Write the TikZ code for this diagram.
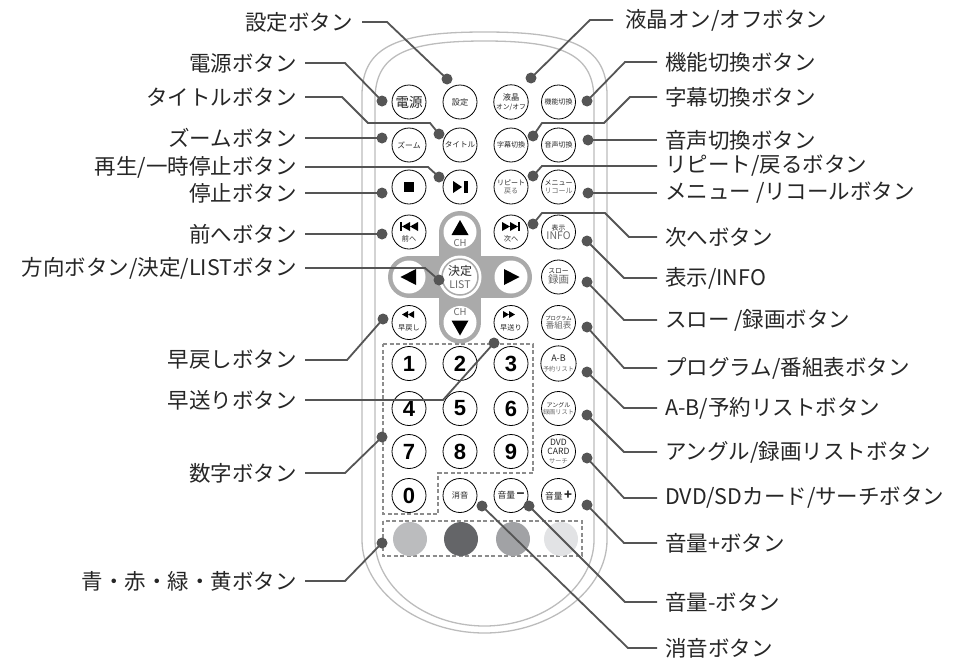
\documentclass[tikz,border=0pt]{standalone}
\usepackage{fontspec}
\setmainfont{Noto Sans CJK JP}
\newfontfamily\numfont{Liberation Sans}
\usepackage{tikz}
\definecolor{txtgray}{RGB}{38,38,38}
\definecolor{leadgray}{RGB}{85,85,85}
\definecolor{shellgray}{RGB}{188,188,188}
\definecolor{padgray}{RGB}{170,170,170}
\definecolor{dashgray}{RGB}{140,140,140}
\definecolor{subgray}{RGB}{105,105,105}
\definecolor{keyA}{RGB}{187,188,190}
\definecolor{keyB}{RGB}{100,101,104}
\definecolor{keyC}{RGB}{161,162,165}
\definecolor{keyD}{RGB}{226,227,229}
\tikzstyle{btn} = [circle,draw=black,line width=0.8pt,fill=white,minimum size=34pt,inner sep=0pt,align=center,font=\fontsize{7.8}{8.5}\selectfont,text=txtgray]
\tikzstyle{padbtn} = [circle,fill=white,minimum size=33pt,inner sep=0pt]
\tikzstyle{colkey} = [circle,minimum size=34pt,inner sep=0pt]
\tikzstyle{calldot} = [circle,fill=leadgray,minimum size=11pt,inner sep=0pt]
\tikzstyle{lbl} = [inner sep=0pt,font=\fontsize{21.5}{22}\selectfont,text=txtgray]
\tikzstyle{keytxt} = [inner sep=0pt,font=\fontsize{7.2}{7.5}\selectfont,text=txtgray]
\tikzstyle{numkey} = [btn,font=\numfont\bfseries\fontsize{22}{22}\selectfont,text=black]
\tikzstyle{leader} = [draw=leadgray,line width=1.8pt]
\tikzstyle{dashbox} = [draw=dashgray,line width=1.2pt,dash pattern=on 4pt off 2.5pt]

\begin{document}
\begin{tikzpicture}[x=1pt,y=-1pt]
            \useasboundingbox (0,0) rectangle (966,664);
            % remote body
            \draw[shellgray,line width=1.3pt] (362,540) -- (362,95) .. controls (362,45) and (400,32) .. (484.5,32) .. controls (569,32) and (607,45) .. (607,95) -- (607,540) .. controls (607,590) and (551,633) .. (484.5,633) .. controls (418,633) and (362,590) .. (362,540) -- cycle;
            \draw[shellgray,line width=1.3pt] (375,540) -- (375,100) .. controls (375,55) and (405,41) .. (484.5,41) .. controls (564,41) and (594,55) .. (594,100) -- (594,540) .. controls (594,585) and (546,626) .. (484.5,626) .. controls (423,626) and (375,585) .. (375,540) -- cycle;
            \draw[dashbox] (383,344) -- (533,344) -- (533,473) -- (438,473) -- (438,514) -- (383,514) -- cycle;
            \draw[dashbox] (383,521) rectangle (582,556);
            \draw[padgray,line width=42pt,line cap=round] (460,232) -- (460,322.5);
            \draw[padgray,line width=42pt,line cap=round] (409,277) -- (511,277);

            % keys
            \node[btn,font=\fontsize{13.5}{14}\selectfont] (bPow) at (409,102) {電源};
            \node[btn,font=\fontsize{8.2}{9}\selectfont] (bSet) at (460,102) {設定};
            \node[btn,font=\fontsize{8.2}{9}\selectfont] (bLcd) at (511,102) {液晶\\{\fontsize{6.8}{7.5}\selectfont オン/オフ}};
            \node[btn,font=\fontsize{7}{7.5}\selectfont] (bFunc) at (558.5,102) {機能切換};
            \node[btn] (bZoom) at (409,145) {ズーム};
            \node[btn,font=\fontsize{7.6}{8}\selectfont] (bTitle) at (460,145) {タイトル};
            \node[btn,font=\fontsize{7}{7.5}\selectfont] (bSub) at (511,145) {字幕切換};
            \node[btn,font=\fontsize{7}{7.5}\selectfont] (bAudio) at (558.5,145) {音声切換};
            \node[btn] (bStop) at (409,187) {};
            \fill[black] (404,182) rectangle (414,192);
            \node[btn] (bPlay) at (460,187) {};
            \fill[black] (453,181) -- (453,193) -- (462,187) -- cycle;
            \fill[black] (464,181) rectangle (468,193);
            \node[btn,font=\fontsize{7}{8.5}\selectfont] (bRep) at (511,187) {リピート\\\textcolor{subgray}{戻る}};
            \node[btn,font=\fontsize{7}{8.5}\selectfont] (bMenu) at (558.5,187) {メニュー\\\textcolor{subgray}{リコール}};

            \node[btn] (bPrev) at (409,232) {};
            \fill[black] (400,222) rectangle (402,231);
            \fill[black] (402,226.5) -- (410,222) -- (410,231) -- cycle;
            \fill[black] (410,226.5) -- (418,222) -- (418,231) -- cycle;
            \node[keytxt] (tPrev) at (409,238.5) {前へ};
            \node[padbtn] (bUp) at (460,232) {};
            \fill[black] (460,220) -- (468.5,235) -- (451.5,235) -- cycle;
            \node[keytxt,font=\fontsize{9.5}{10}\selectfont,text=subgray] (tUp) at (460,243) {CH};
            \node[btn] (bNext) at (511,232) {};
            \fill[black] (502,222) -- (510,226.5) -- (502,231) -- cycle;
            \fill[black] (510,222) -- (518,226.5) -- (510,231) -- cycle;
            \fill[black] (518,222) rectangle (520,231);
            \node[keytxt] (tNext) at (511,238.5) {次へ};
            \node[btn,font=\fontsize{6.8}{8}\selectfont] (bInfo) at (558.5,232) {表示\\\textcolor{subgray}{\fontsize{10.5}{11}\selectfont INFO}};

            \node[padbtn] (bLeft) at (409,277) {};
            \fill[black] (400.5,277) -- (416,269) -- (416,285) -- cycle;
            \node[padbtn,minimum size=43pt] (bOk) at (460,277) {};
            \draw[padgray,line width=1.5pt] (bOk.center) circle[radius=18];
            \node[keytxt,align=center,font=\fontsize{12}{12.5}\selectfont] (tOk) at (460,277) {決定\\\textcolor{subgray}{\fontsize{10.5}{11}\selectfont LIST}};
            \node[padbtn] (bRight) at (511,277) {};
            \fill[black] (519.5,277) -- (504,269) -- (504,285) -- cycle;
            \node[btn,font=\fontsize{6.8}{8}\selectfont] (bSlow) at (558.5,277) {スロー\\\textcolor{subgray}{\fontsize{10.5}{11}\selectfont 録画}};

            \node[btn] (bRew) at (409,322.5) {};
            \fill[black] (402,314.5) -- (408,311) -- (408,318) -- cycle;
            \fill[black] (408,314.5) -- (414,311) -- (414,318) -- cycle;
            \node[keytxt] (tRew) at (409,327.5) {早戻し};
            \node[padbtn] (bDown) at (460,322.5) {};
            \node[keytxt,font=\fontsize{9.5}{10}\selectfont,text=subgray] (tDown) at (460,312.5) {CH};
            \fill[black] (460,335.5) -- (468.5,320.5) -- (451.5,320.5) -- cycle;
            \node[btn] (bFf) at (511,322.5) {};
            \fill[black] (503,311) -- (509,314.5) -- (503,318) -- cycle;
            \fill[black] (509,311) -- (515,314.5) -- (509,318) -- cycle;
            \node[keytxt] (tFf) at (511,327.5) {早送り};
            \node[btn,font=\fontsize{5.3}{6.5}\selectfont] (bProg) at (558.5,322.5) {プログラム\\\textcolor{subgray}{\fontsize{8.5}{9}\selectfont 番組表}};

            \node[numkey] (b1) at (409,363.5) {1};
            \node[numkey] (b2) at (460,363.5) {2};
            \node[numkey] (b3) at (511,363.5) {3};
            \node[btn,font=\fontsize{9}{10}\selectfont] (bAB) at (558.5,363.5) {A-B\\\textcolor{subgray}{\fontsize{6.2}{7}\selectfont 予約リスト}};
            \node[numkey] (b4) at (409,408.5) {4};
            \node[numkey] (b5) at (460,408.5) {5};
            \node[numkey] (b6) at (511,408.5) {6};
            \node[btn,font=\fontsize{6}{7}\selectfont] (bAngle) at (558.5,408.5) {アングル\\\textcolor{subgray}{\fontsize{6.2}{7}\selectfont 録画リスト}};
            \node[numkey] (b7) at (409,451.5) {7};
            \node[numkey] (b8) at (460,451.5) {8};
            \node[numkey] (b9) at (511,451.5) {9};
            \node[btn,font=\fontsize{8.6}{8.8}\selectfont] (bDvd) at (558.5,451.5) {DVD\\CARD\\\textcolor{subgray}{\fontsize{6.2}{6.5}\selectfont サーチ}};
            \node[numkey] (b0) at (409,495.5) {0};
            \node[btn,font=\fontsize{8.2}{9}\selectfont] (bMute) at (460,495.5) {消音};
            \node[btn,font=\fontsize{8.8}{9}\selectfont] (bVolDn) at (511,495.5) {音量\,{\fontsize{13}{13}\selectfont\bfseries −}};
            \node[btn,font=\fontsize{8.8}{9}\selectfont] (bVolUp) at (558.5,495.5) {音量\,{\fontsize{13}{13}\selectfont\bfseries +}};

            \node[colkey,fill=keyA] (kBlue) at (410,539) {};
            \node[colkey,fill=keyB] (kRed) at (461,539) {};
            \node[colkey,fill=keyC] (kGreen) at (513,539) {};
            \node[colkey,fill=keyD] (kYellow) at (561,539) {};

            % labels
            \node[lbl,anchor=east] (lSet) at (353,22) {設定ボタン};
            \node[lbl,anchor=east] (lPow) at (297,63) {電源ボタン};
            \node[lbl,anchor=east] (lTitle) at (297,97) {タイトルボタン};
            \node[lbl,anchor=east] (lZoom) at (297,138) {ズームボタン};
            \node[lbl,anchor=east] (lPlay) at (297,167) {再生/一時停止ボタン};
            \node[lbl,anchor=east] (lStop) at (297,193) {停止ボタン};
            \node[lbl,anchor=east] (lPrev) at (297,234) {前へボタン};
            \node[lbl,anchor=east] (lDir) at (297,268) {方向ボタン/決定/LISTボタン};
            \node[lbl,anchor=east] (lRew) at (297,360) {早戻しボタン};
            \node[lbl,anchor=east] (lFf) at (297,400) {早送りボタン};
            \node[lbl,anchor=east] (lNum) at (297,473) {数字ボタン};
            \node[lbl,anchor=east] (lColor) at (297,581) {青・赤・緑・黄ボタン};

            \node[lbl,anchor=west] (lLcd) at (625,20) {液晶オン/オフボタン};
            \node[lbl,anchor=west] (lFunc) at (665,62) {機能切換ボタン};
            \node[lbl,anchor=west] (lSub) at (665,97) {字幕切換ボタン};
            \node[lbl,anchor=west] (lAudio) at (665,140) {音声切換ボタン};
            \node[lbl,anchor=west] (lRep) at (665,166) {リピート/戻るボタン};
            \node[lbl,anchor=west] (lMenu) at (665,193) {メニュー /リコールボタン};
            \node[lbl,anchor=west] (lNext) at (665,237) {次へボタン};
            \node[lbl,anchor=west] (lInfo) at (665,278) {表示/INFO};
            \node[lbl,anchor=west] (lSlow) at (665,320) {スロー /録画ボタン};
            \node[lbl,anchor=west] (lProg) at (665,368) {プログラム/番組表ボタン};
            \node[lbl,anchor=west] (lAB) at (665,408) {A-B/予約リストボタン};
            \node[lbl,anchor=west] (lAngle) at (665,452) {アングル/録画リストボタン};
            \node[lbl,anchor=west] (lDvd) at (665,498) {DVD/SDカード/サーチボタン};
            \node[lbl,anchor=west] (lVolUp) at (665,543) {音量+ボタン};
            \node[lbl,anchor=west] (lVolDn) at (665,602) {音量-ボタン};
            \node[lbl,anchor=west] (lMute) at (665,648) {消音ボタン};

            % callout dots
            \node[calldot] (dSet) at (447,79) {};
            \node[calldot] (dLcd) at (531,78) {};
            \node[calldot] (dPow) at (382,101) {};
            \node[calldot] (dFunc) at (587,101) {};
            \node[calldot] (dTitle) at (439,134) {};
            \node[calldot] (dSub) at (533,136) {};
            \node[calldot] (dZoom) at (382,138) {};
            \node[calldot] (dAudio) at (588,140) {};
            \node[calldot] (dPlay) at (439,177) {};
            \node[calldot] (dRep) at (533,176) {};
            \node[calldot] (dStop) at (382,193) {};
            \node[calldot] (dMenu) at (588,193) {};
            \node[calldot] (dPrev) at (382,234) {};
            \node[calldot] (dNext) at (533,224) {};
            \node[calldot] (dInfo) at (587,241) {};
            \node[calldot] (dDir) at (439,280) {};
            \node[calldot] (dSlow) at (587,282) {};
            \node[calldot] (dRew) at (383,319) {};
            \node[calldot] (dProg) at (587,327) {};
            \node[calldot] (dFf) at (494,343) {};
            \node[calldot] (dAB) at (587,372) {};
            \node[calldot] (dAngle) at (587,415) {};
            \node[calldot] (dNum) at (382,437) {};
            \node[calldot] (dDvd) at (587,458) {};
            \node[calldot] (dMute) at (482,506) {};
            \node[calldot] (dVolDn) at (529,506) {};
            \node[calldot] (dVolUp) at (587,505) {};
            \node[calldot] (dColor) at (382,543) {};

            % leaders
            \draw[leader] ([xshift=9pt]lSet.east) -- ++(25,0) -- (dSet.center);
            \draw[leader] ([xshift=8pt]lPow.east) -- ++(40,0) -- (dPow.center);
            \draw[leader] ([xshift=8pt]lTitle.east) -- ++(37,0) -- ++(26,26) -- ++(62,0) -- (dTitle.center);
            \draw[leader] ([xshift=8pt]lZoom.east) -- (dZoom.center);
            \draw[leader] ([xshift=8pt]lPlay.east) -- ++(123,0) -- (dPlay.center);
            \draw[leader] ([xshift=8pt]lStop.east) -- (dStop.center);
            \draw[leader] ([xshift=8pt]lPrev.east) -- (dPrev.center);
            \draw[leader] ([xshift=8pt]lDir.east) -- ++(120,0) -- (dDir.center);
            \draw[leader] ([xshift=8pt]lRew.east) -- ++(42,0) -- (dRew.center);
            \draw[leader] ([xshift=8pt]lFf.east) -- ++(138,0) -- (dFf.center);
            \draw[leader] ([xshift=8pt]lNum.east) -- ++(40,0) -- (dNum.center);
            \draw[leader] ([xshift=8pt]lColor.east) -- ++(40,0) -- (dColor.center);
            \draw[leader] ([xshift=-12pt]lLcd.west) -- ++(-23,0) -- (dLcd.center);
            \draw[leader] ([xshift=-8pt]lFunc.west) -- ++(-32,0) -- (dFunc.center);
            \draw[leader] ([xshift=-8pt]lSub.west) -- ++(-27,0) -- ++(-26,26) -- ++(-62,0) -- (dSub.center);
            \draw[leader] ([xshift=-8pt]lAudio.west) -- (dAudio.center);
            \draw[leader] ([xshift=-8pt]lRep.west) -- ++(-115,0) -- (dRep.center);
            \draw[leader] ([xshift=-8pt]lMenu.west) -- (dMenu.center);
            \draw[leader] ([xshift=-8pt]lNext.west) -- ++(-28,0) -- ++(-24,-24) -- ++(-63,0) -- (dNext.center);
            \draw[leader] ([xshift=-8pt]lInfo.west) -- ++(-33,0) -- (dInfo.center);
            \draw[leader] ([xshift=-8pt]lSlow.west) -- ++(-33,0) -- (dSlow.center);
            \draw[leader] ([xshift=-8pt]lProg.west) -- ++(-33,0) -- (dProg.center);
            \draw[leader] ([xshift=-8pt]lAB.west) -- ++(-33,0) -- (dAB.center);
            \draw[leader] ([xshift=-8pt]lAngle.west) -- ++(-33,0) -- (dAngle.center);
            \draw[leader] ([xshift=-8pt]lDvd.west) -- ++(-33,0) -- (dDvd.center);
            \draw[leader] ([xshift=-8pt]lVolUp.west) -- ++(-33,0) -- (dVolUp.center);
            \draw[leader] ([xshift=-8pt]lVolDn.west) -- ++(-32,0) -- (dVolDn.center);
            \draw[leader] ([xshift=-8pt]lMute.west) -- ++(-29,0) -- (dMute.center);
\end{tikzpicture}
\end{document}
